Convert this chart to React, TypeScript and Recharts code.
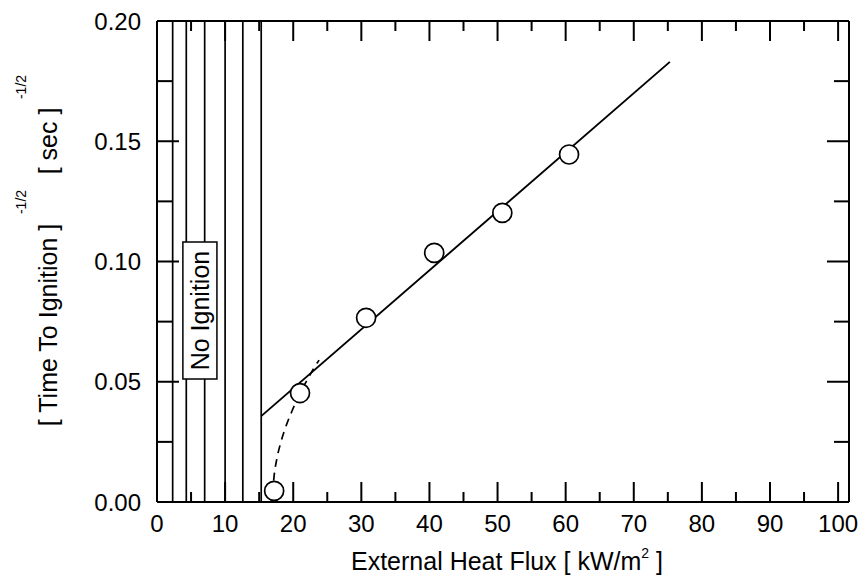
import React from 'react';
import {
  ComposedChart,
  Line,
  Scatter,
  XAxis,
  YAxis,
  ReferenceLine,
  ReferenceArea,
} from 'recharts';

// ---- data ----
const xTickValues = [0, 5, 10, 15, 20, 25, 30, 35, 40, 45, 50, 55, 60, 65, 70, 75, 80, 85, 90, 95, 100];
const yTickValues = [0, 0.025, 0.05, 0.075, 0.1, 0.125, 0.15, 0.175, 0.2];
const noIgnitionFlux = [2.3, 4.3, 7.0, 10.0, 12.6, 15.3];
const measuredFlux = [17.2, 21.0, 30.7, 40.7, 50.7, 60.5];
const measuredTig = [0.0046, 0.0453, 0.0766, 0.1036, 0.1202, 0.1445];
const fitFlux = [15.3, 75.3];
const fitTig = [0.0357, 0.183];
const transitionFlux = [16.95, 17.2, 17.6, 18.2, 19.0, 20.0, 21.0, 22.0, 23.0, 23.8];
const transitionTig = [0.003, 0.011, 0.018, 0.025, 0.032, 0.039, 0.0453, 0.0505, 0.0555, 0.059];
const noIgnitionBox = { x1: 3.8, x2: 8.8, y1: 0.0511, y2: 0.1081 };

const measuredData = measuredFlux.map((x, i) => ({ x, y: measuredTig[i] }));
const fitData = fitFlux.map((x, i) => ({ x, y: fitTig[i] }));
const transitionData = transitionFlux.map((x, i) => ({ x, y: transitionTig[i] }));

const FONT = "'Liberation Sans', Arial, Helvetica, sans-serif";
const TICK_FONT = 24;
const TITLE_FONT = 25;

const isMajor = (v: number, step: number) => Math.abs(v / step - Math.round(v / step)) < 1e-6;

function BottomTick(props: any) {
  const { x, y, payload } = props;
  const major = isMajor(payload.value, 10);
  return (
    <g>
      <line x1={x} x2={x} y1={y} y2={y - (major ? 20 : 10)} stroke="#000" strokeWidth={2} />
      {major && (
        <text x={x} y={y + 30} textAnchor="middle" fontSize={TICK_FONT} fontFamily={FONT} fill="#000">
          {payload.value}
        </text>
      )}
    </g>
  );
}

function TopTick(props: any) {
  const { x, y, payload } = props;
  const major = isMajor(payload.value, 10);
  return <line x1={x} x2={x} y1={y} y2={y + (major ? 20 : 10)} stroke="#000" strokeWidth={2} />;
}

function LeftTick(props: any) {
  const { x, y, payload } = props;
  const major = isMajor(payload.value, 0.05);
  return (
    <g>
      <line x1={x} x2={x + (major ? 22 : 15)} y1={y} y2={y} stroke="#000" strokeWidth={2} />
      {major && (
        <text x={x - 16} y={y + 8.5} textAnchor="end" fontSize={TICK_FONT} fontFamily={FONT} fill="#000">
          {payload.value.toFixed(2)}
        </text>
      )}
    </g>
  );
}

function RightTick(props: any) {
  const { x, y, payload } = props;
  const major = isMajor(payload.value, 0.05);
  return <line x1={x} x2={x - (major ? 22 : 15)} y1={y} y2={y} stroke="#000" strokeWidth={2} />;
}

function XTitle(props: any) {
  const vb = props.viewBox || { x: 157, y: 502, width: 692, height: 80 };
  const cx = vb.x + vb.width / 2 + 4;
  const by = vb.y + 68;
  return (
    <text x={cx} y={by} textAnchor="middle" fontSize={TITLE_FONT} fontFamily={FONT} fill="#000">
      External Heat Flux [ kW/m
      <tspan dy={-12} fontSize={14}>2</tspan>
      <tspan dy={12} fontSize={TITLE_FONT}> ]</tspan>
    </text>
  );
}

function YTitle(props: any) {
  const vb = props.viewBox || { x: 0, y: 21, width: 157, height: 481 };
  const top = vb.y;
  const baseX = vb.x + 57;
  const supX = vb.x + 26;
  const seg = (cy: number, bx: number, size: number, txt: string, key: string) => (
    <text
      key={key}
      transform={`translate(${bx},${cy}) rotate(-90)`}
      x={0}
      y={0}
      textAnchor="middle"
      fontSize={size}
      fontFamily={FONT}
      fill="#000"
    >
      {txt}
    </text>
  );
  return (
    <g>
      {seg(top + 304, baseX, TITLE_FONT, '[ Time To Ignition ]', 'a')}
      {seg(top + 181, supX, 14, '-1/2', 'b')}
      {seg(top + 120, baseX, TITLE_FONT, '[ sec ]', 'c')}
      {seg(top + 66, supX, 14, '-1/2', 'd')}
    </g>
  );
}

export default function App() {
  return (
    <div style={{ position: 'absolute', left: 0, top: 0, background: '#fff' }}>
      <ComposedChart
        width={867}
        height={582}
        margin={{ top: 20, right: 17, bottom: 0, left: 0 }}
        style={{ background: '#fff' }}
      >
        <XAxis
          xAxisId="b"
          type="number"
          dataKey="x"
          orientation="bottom"
          domain={[0, 101.6]}
          ticks={xTickValues}
          interval={0}
          allowDataOverflow
          height={80}
          tickSize={0}
          tickMargin={0}
          tickLine={false}
          axisLine={{ stroke: '#000', strokeWidth: 2 }}
          tick={<BottomTick />}
          label={{ content: (p: any) => <XTitle {...p} /> }}
        />
        <XAxis
          xAxisId="t"
          type="number"
          dataKey="x"
          orientation="top"
          domain={[0, 101.6]}
          ticks={xTickValues}
          interval={0}
          allowDataOverflow
          height={1}
          tickSize={0}
          tickMargin={0}
          tickLine={false}
          axisLine={{ stroke: '#000', strokeWidth: 2 }}
          tick={<TopTick />}
        />
        <YAxis
          yAxisId="l"
          type="number"
          orientation="left"
          domain={[0, 0.2]}
          ticks={yTickValues}
          interval={0}
          allowDataOverflow
          width={157}
          tickSize={0}
          tickMargin={0}
          tickLine={false}
          axisLine={{ stroke: '#000', strokeWidth: 2 }}
          tick={<LeftTick />}
          label={{ content: (p: any) => <YTitle {...p} /> }}
        />
        <YAxis
          yAxisId="r"
          type="number"
          orientation="right"
          domain={[0, 0.2]}
          ticks={yTickValues}
          interval={0}
          allowDataOverflow
          width={1}
          tickSize={0}
          tickMargin={0}
          tickLine={false}
          axisLine={{ stroke: '#000', strokeWidth: 2 }}
          tick={<RightTick />}
        />
        {noIgnitionFlux.map((v) => (
          <ReferenceLine
            key={v}
            x={v}
            xAxisId="b"
            yAxisId="l"
            stroke="#000"
            strokeWidth={1.7}
            zIndex={50}
          />
        ))}
        <ReferenceArea
          x1={noIgnitionBox.x1}
          x2={noIgnitionBox.x2}
          y1={noIgnitionBox.y1}
          y2={noIgnitionBox.y2}
          xAxisId="b"
          yAxisId="l"
          fill="#fff"
          fillOpacity={1}
          stroke="#000"
          strokeWidth={1.5}
          zIndex={60}
          label={{
            value: 'No Ignition',
            angle: -90,
            position: 'center',
            fontSize: 25,
            fill: '#000',
            fontFamily: FONT,
          }}
        />
        <Line
          data={transitionData}
          dataKey="y"
          xAxisId="b"
          yAxisId="l"
          type="monotone"
          stroke="#000"
          strokeWidth={1.7}
          strokeDasharray="8 6"
          dot={false}
          isAnimationActive={false}
        />
        <Line
          data={fitData}
          dataKey="y"
          xAxisId="b"
          yAxisId="l"
          type="linear"
          stroke="#000"
          strokeWidth={1.9}
          dot={false}
          isAnimationActive={false}
        />
        <Scatter
          data={measuredData}
          dataKey="y"
          xAxisId="b"
          yAxisId="l"
          isAnimationActive={false}
          shape={(p: any) => (
            <circle cx={p.cx} cy={p.cy} r={9.5} fill="#fff" stroke="#000" strokeWidth={1.7} />
          )}
        />
      </ComposedChart>
    </div>
  );
}
